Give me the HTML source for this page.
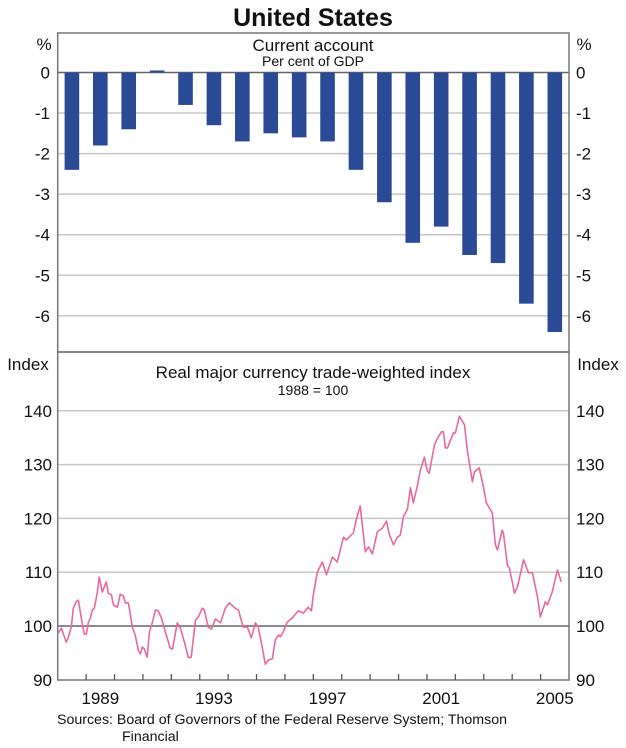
<!DOCTYPE html>
<html><head><meta charset="utf-8"><style>
body{margin:0;background:#fff;}
svg{display:block;font-family:"Liberation Sans",Arial,sans-serif;}
</style></head><body>
<svg id="c" width="626" height="748" viewBox="0 0 626 748">
<text x="313" y="26" text-anchor="middle" font-size="25" font-weight="bold" fill="#111">United States</text>
<g id="g"></g>
</svg>
<script>
const barYears=[1988,1989,1990,1991,1992,1993,1994,1995,1996,1997,1998,1999,2000,2001,2002,2003,2004,2005];
const barValues=[-2.4,-1.8,-1.4,0.05,-0.8,-1.3,-1.7,-1.5,-1.6,-1.7,-2.4,-3.2,-4.2,-3.8,-4.5,-4.7,-5.7,-6.4];
const topTicks=[0,-1,-2,-3,-4,-5,-6];
const botTicks=[90,100,110,120,130,140];
const yearLabels=[1989,1993,1997,2001,2005];
const lineDates=[1988.02,1988.13,1988.30,1988.37,1988.48,1988.55,1988.65,1988.73,1988.87,1988.94,1989.01,1989.08,1989.15,1989.22,1989.29,1989.39,1989.46,1989.57,1989.71,1989.78,1989.89,1989.96,1990.10,1990.20,1990.31,1990.38,1990.49,1990.63,1990.73,1990.84,1990.91,1990.98,1991.05,1991.15,1991.23,1991.33,1991.44,1991.54,1991.65,1991.79,1991.96,1992.04,1992.21,1992.32,1992.46,1992.60,1992.70,1992.85,1992.95,1993.09,1993.16,1993.30,1993.41,1993.55,1993.73,1993.90,1994.04,1994.25,1994.36,1994.53,1994.68,1994.82,1994.96,1995.06,1995.20,1995.31,1995.42,1995.56,1995.66,1995.77,1995.84,1995.94,1996.08,1996.26,1996.47,1996.65,1996.82,1996.93,1997.00,1997.14,1997.32,1997.46,1997.67,1997.84,1998.06,1998.16,1998.41,1998.51,1998.65,1998.83,1998.94,1999.08,1999.25,1999.43,1999.57,1999.68,1999.82,1999.96,2000.06,2000.17,2000.31,2000.42,2000.52,2000.66,2000.77,2000.91,2001.01,2001.08,2001.26,2001.36,2001.51,2001.58,2001.65,2001.72,2001.93,2002.00,2002.14,2002.32,2002.42,2002.60,2002.67,2002.84,2002.99,2003.09,2003.30,2003.41,2003.48,2003.65,2003.69,2003.83,2003.90,2004.01,2004.08,2004.18,2004.40,2004.57,2004.71,2004.89,2004.99,2005.17,2005.24,2005.41,2005.59,2005.73];
const lineValues=[98.7,99.6,97.0,97.8,99.8,103.3,104.5,104.8,100.2,98.5,98.5,100.7,101.5,103.0,103.3,106.1,109.1,106.3,108.2,106.1,105.8,103.9,103.5,105.9,105.6,104.3,104.3,99.8,98.3,95.4,94.8,96.1,95.7,94.2,98.9,100.6,103.0,102.8,101.5,98.9,95.9,95.7,100.6,99.6,97.0,94.1,94.2,101.1,101.7,103.3,103.0,99.8,99.4,101.3,100.6,103.3,104.3,103.3,103.0,99.8,99.8,97.8,100.6,99.8,96.1,92.9,93.7,93.9,97.4,98.3,98.0,98.9,100.7,101.5,102.8,102.4,103.5,102.8,105.8,110.0,111.9,109.5,112.8,111.9,116.5,116.0,117.3,119.7,122.3,113.8,114.7,113.4,117.5,118.2,119.5,116.9,115.1,116.5,116.9,120.3,121.7,125.7,122.9,126.0,129.0,131.4,128.8,128.4,133.6,134.8,136.1,136.1,133.1,133.1,135.9,135.9,139.0,137.4,132.7,126.8,128.6,129.4,125.8,122.9,121.0,115.1,114.1,117.8,117.3,111.3,110.8,108.0,106.1,107.2,112.3,109.9,109.9,105.4,101.7,104.5,103.9,106.3,110.4,108.2];

const NS='http://www.w3.org/2000/svg';
const g=document.getElementById('g');
const L=57.7,R=569,T1=33,B1=352,T2=352,B2=680;
const X=t=>L+(t-1988)*(R-L)/18;
const Y1=v=>72.5-v*40.55;
const Y2=v=>626-(v-100)*5.38;
function mk(tag,attrs,parent){const e=document.createElementNS(NS,tag);for(const k in attrs)e.setAttribute(k,attrs[k]);(parent||g).appendChild(e);return e;}

topTicks.forEach(v=>{const ln=mk('line',{x1:L,x2:R,y1:Y1(v),y2:Y1(v),stroke:v===0?'#666':'#c8c8c8','stroke-width':1.5});

});
botTicks.forEach(v=>{if(v===90)return;const ln=mk('line',{x1:L,x2:R,y1:Y2(v),y2:Y2(v),stroke:v===100?'#666':'#c8c8c8','stroke-width':1.5});

});

barYears.forEach((yr,i)=>{const v=barValues[i];const y0=Y1(0),y1=Y1(v);
const r=mk('rect',{x:X(yr+0.5)-7.3,width:14.6,y:Math.min(y0,y1),height:Math.max(Math.abs(y1-y0),1.5),fill:'#2a4a95'});

});

const p=mk('path',{d:lineDates.map((t,i)=>(i?'L':'M')+X(t).toFixed(1)+' '+Y2(lineValues[i]).toFixed(1)).join(' '),fill:'none',stroke:'#e8689f','stroke-width':1.6,'stroke-linejoin':'round'});



const f1=mk('rect',{x:L,y:T1,width:R-L,height:B1-T1,fill:'none',stroke:'#777','stroke-width':1.5});


const f2=mk('rect',{x:L,y:T2,width:R-L,height:B2-T2,fill:'none',stroke:'#777','stroke-width':1.5});



for(let yr=1989;yr<=2005;yr++){const t=mk('line',{x1:X(yr),x2:X(yr),y1:B2,y2:B2-6,stroke:'#555','stroke-width':1.3});

}

function txt(s,x,y,anchor,size,name){const e=mk('text',{x:x,y:y,'text-anchor':anchor,'font-size':size,fill:'#111'});e.textContent=s;

return e;}

topTicks.forEach(v=>{const s=v===0?'0':String(v);
txt(s,50,Y1(v)+6,'end',17,'top-left-tick-label');
txt(s,576,Y1(v)+6,'start',17,'top-right-tick-label');});
botTicks.forEach(v=>{
txt(String(v),52,Y2(v)+6,'end',17,'bottom-left-tick-label');
txt(String(v),576,Y2(v)+6,'start',17,'bottom-right-tick-label');});
yearLabels.forEach(yr=>txt(String(yr),X(yr+0.5),704,'middle',17,'x-tick-label'));

txt('%',44,50,'middle',17,'top-left-unit');
txt('%',584,50,'middle',17,'top-right-unit');
txt('Index',28,370,'middle',17,'bottom-left-unit');
txt('Index',598,370,'middle',17,'bottom-right-unit');
txt('Current account',313,51,'middle',17,'top-panel-title');
txt('Per cent of GDP',313,66,'middle',14,'top-panel-subtitle');
txt('Real major currency trade-weighted index',313,378,'middle',17,'bottom-panel-title');
txt('1988 = 100',313,395,'middle',14,'bottom-panel-subtitle');
txt('Sources: Board of Governors of the Federal Reserve System; Thomson',57,724,'start',14.2,'sources-note');
txt('Financial',122,741,'start',14.2,'sources-note-cont');
</script>
</body></html>
